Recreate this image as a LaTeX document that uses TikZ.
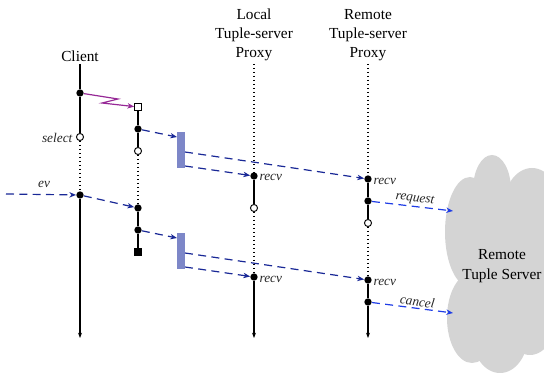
\documentclass[tikz,border=0pt]{standalone}
\usepackage{fontspec}
\setmainfont{Liberation Serif}
\usetikzlibrary{arrows.meta}

\definecolor{msgblue}{RGB}{25,40,150}
\definecolor{netblue}{RGB}{30,60,230}
\definecolor{zigpurple}{RGB}{150,40,150}
\definecolor{bufblue}{RGB}{125,135,200}
\definecolor{cloudgray}{RGB}{212,212,212}

\begin{document}
\begin{tikzpicture}[x=0.75pt,y=-0.75pt,
  head/.style={align=center, inner sep=0pt, font=\fontsize{11.5}{14.5}\selectfont},
  lbl/.style={inner sep=1pt, text=black!85, font=\fontsize{10}{12}\selectfont\itshape},
  life/.style={line width=0.9pt, black},
  idle/.style={line width=1pt, black, dotted},
  lifeend/.style={life, -{Stealth[length=4pt,width=3pt]}},
  msg/.style={msgblue, line width=0.9pt, dash pattern=on 6pt off 4pt, -{Stealth[length=5pt,width=4pt,inset=1.5pt]}},
  netmsg/.style={msg, netblue},
  zig/.style={zigpurple, line width=0.9pt, -{Stealth[length=5pt,width=4pt,inset=1.5pt]}},
  fdot/.style={circle, fill=black, inner sep=0pt, minimum size=5.5pt},
  odot/.style={circle, draw=black, fill=white, line width=0.7pt, inner sep=0pt, minimum size=5.3pt},
  osq/.style={rectangle, draw=black, fill=white, line width=0.7pt, inner sep=0pt, minimum size=5pt},
  fsq/.style={rectangle, fill=black, inner sep=0pt, minimum size=5.5pt},
  buffer/.style={rectangle, fill=bufblue, inner sep=0pt, minimum width=6pt, minimum height=27pt}
]
\useasboundingbox (0,0) rectangle (544,374);

% cloud for the remote server: each lobe filled on its own
\begin{scope}
  \clip (0,0) rectangle (544,374);
  \fill[cloudgray] (492,190) ellipse [x radius=19, y radius=35];
  \fill[cloudgray] (532,212) ellipse [x radius=30, y radius=44];
  \fill[cloudgray] (470,232) ellipse [x radius=25, y radius=55];
  \fill[cloudgray] (472,318) ellipse [x radius=25, y radius=45];
  \fill[cloudgray] (500,335) ellipse [x radius=28, y radius=38];
  \fill[cloudgray] (530,305) ellipse [x radius=30, y radius=50];
  \fill[cloudgray] (466,200) rectangle (544,340);
\end{scope}
\node[head] (srv) at (502,266) {Remote\\Tuple Server};

% column headings
\node[head] (hClient) at (80,56) {Client};
\node[head] (hLocal) at (254,35) {Local\\Tuple-server\\Proxy};
\node[head] (hRemote) at (368,35) {Remote\\Tuple-server\\Proxy};

% client
\coordinate (c0) at (80,64);
\node[fdot] (c1) at (80,93) {};
\node[odot] (cSel) at (80,137) {};
\node[fdot] (cEv) at (80,195) {};
\coordinate (cEnd) at (80,338);

% client thread
\node[osq] (tSq) at (138,107) {};
\node[fdot] (t2) at (138,129) {};
\node[odot] (t3) at (138,151) {};
\node[fdot] (t4) at (138,208) {};
\node[fdot] (t5) at (138,230) {};
\node[fsq] (t6) at (138,252) {};

% local proxy
\coordinate (l0) at (254,64);
\node[fdot] (l1) at (254,176) {};
\node[odot] (l2) at (254,208) {};
\node[fdot] (l3) at (254,277) {};
\coordinate (lEnd) at (254,338);

% remote proxy
\coordinate (r0) at (368,64);
\node[fdot] (r1) at (368,179) {};
\node[fdot] (r2) at (368,201) {};
\node[odot] (r3) at (368,223) {};
\node[fdot] (r4) at (368,280) {};
\node[fdot] (r5) at (368,302) {};
\coordinate (rEnd) at (368,338);

% message buffers
\node[buffer] (b1) at (181,150) {};
\node[buffer] (b2) at (181,251) {};
\coordinate (b1in) at (177,137);
\coordinate (b1hi) at (185,152);
\coordinate (b1lo) at (185,166);
\coordinate (b2in) at (177,238);
\coordinate (b2hi) at (185,253);
\coordinate (b2lo) at (185,267);

% lifelines
\draw[life] (c0) -- (c1);
\draw[life] (c1) -- (cSel);
\draw[idle] (cSel) -- (cEv);
\draw[lifeend] (cEv) -- (cEnd);

\draw[life] (tSq) -- (t2);
\draw[life] (t2) -- (t3);
\draw[idle] (t3) -- (t4);
\draw[life] (t4) -- (t5);
\draw[life] (t5) -- (t6);

\draw[idle] (l0) -- (l1);
\draw[life] (l1) -- (l2);
\draw[idle] (l2) -- (l3);
\draw[lifeend] (l3) -- (lEnd);

\draw[idle] (r0) -- (r1);
\draw[life] (r1) -- (r2);
\draw[life] (r2) -- (r3);
\draw[idle] (r3) -- (r4);
\draw[life] (r4) -- (r5);
\draw[lifeend] (r5) -- (rEnd);

% thread creation
\draw[zig] (c1) -- (118,99) -- (102,103) -- (tSq);

% messages
\coordinate (evSrc) at (6,194);
\draw[msg] (evSrc) -- (cEv);
\node[lbl] (evLbl) at (44,184) {ev};

\draw[msg] (t2) -- (b1in);
\draw[msg] (b1hi) -- (r1);
\draw[msg] (b1lo) -- (l1);

\draw[msg] (cEv) -- (t4);
\draw[msg] (t5) -- (b2in);
\draw[msg] (b2hi) -- (r4);
\draw[msg] (b2lo) -- (l3);

\coordinate (reqEnd) at (453,211);
\coordinate (canEnd) at (453,313);
\draw[netmsg] (r2) -- node[lbl, above, sloped, pos=0.52] (reqLbl) {request} (reqEnd);
\draw[netmsg] (r5) -- node[lbl, above, sloped, pos=0.55] (canLbl) {cancel} (canEnd);

% labels
\node[lbl, anchor=east] (selLbl) at (74,138) {select};
\node[lbl, anchor=west] (recvL1) at (258,177) {recv};
\node[lbl, anchor=west] (recvL2) at (258,279) {recv};
\node[lbl, anchor=west] (recvR1) at (372,181) {recv};
\node[lbl, anchor=west] (recvR2) at (372,282) {recv};
\end{tikzpicture}
\end{document}
